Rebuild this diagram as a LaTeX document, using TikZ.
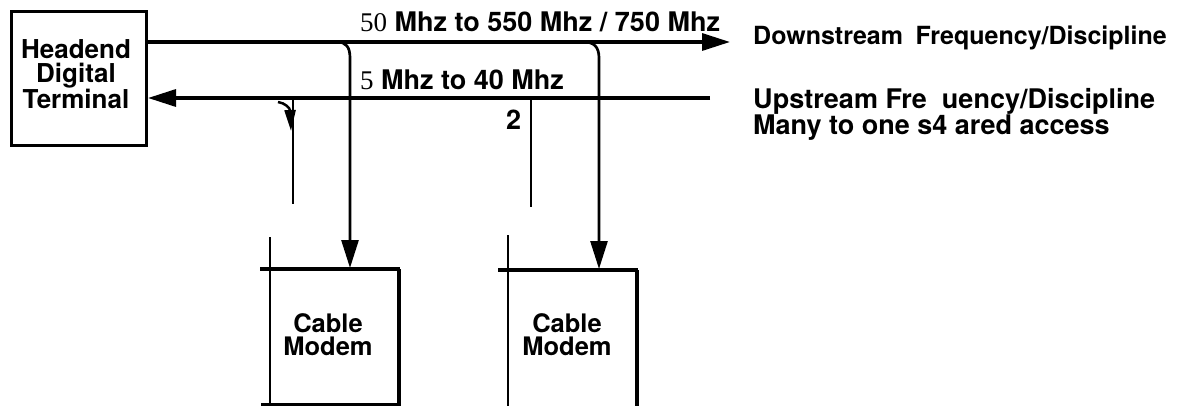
\documentclass[tikz,border=0pt]{standalone}
\usepackage{fontspec}
\setmainfont{TeX Gyre Heros}
\newfontfamily\serifnum{Liberation Serif}
\usetikzlibrary{arrows.meta}
\begin{document}
\begin{tikzpicture}[x=1pt,y=-1pt,
  lbl/.style={font=\bfseries\fontsize{27}{19.5}\selectfont, inner sep=0pt},
  desclbl/.style={font=\bfseries\fontsize{25}{19}\selectfont, inner sep=0pt},
  headlbl/.style={font=\bfseries\fontsize{26}{24}\selectfont, inner sep=0pt, align=center},
  modemlbl/.style={font=\bfseries\fontsize{25.5}{23}\selectfont, inner sep=0pt, align=center},
  big/.style={line width=3.3pt},
  mid/.style={line width=2.7pt},
  thinl/.style={line width=2.2pt},
  tip/.style={-{Triangle[length=28pt,width=17pt]}},
  smalltip/.style={line width=2.5pt,-{Triangle[length=21pt,width=11pt]}}
]
\useasboundingbox (0,0) rectangle (1190,406);

% Headend box
\node[draw, line width=3pt, minimum width=135pt, minimum height=134pt, inner sep=0pt] (head) at (79,78.5) {};
\node[headlbl] (headtxt) at (76,74) {Headend\\Digital\\Terminal};

% main lines
\coordinate (dsE) at (730,42);
\coordinate (usE) at (710,98);
\draw[big, tip] (head.east |- dsE) -- (dsE);
\draw[big, tip] (usE) -- (head.east |- usE);

% labels
\node[lbl, anchor=base west] (dslbl) at (360,32) {{\mdseries\serifnum 50} Mhz to 550 Mhz / 750 Mhz};
\node[lbl, anchor=base west] (uslbl) at (360,90) {{\mdseries\serifnum 5} Mhz to 40 Mhz};
\node[lbl, anchor=base west] (two) at (506,130) {2};
\node[desclbl, anchor=base west] (dsdesc) at (753,45) {Downstream\enspace Frequency/Discipline};
\node[lbl, font=\bfseries\fontsize{27}{19}\selectfont, anchor=north west, align=left] (usdesc) at (753,88) {Upstream Fre\ \ uency/Discipline\\Many to one s4 ared access};

% modem texts
\node[modemlbl] (m1) at (328,335) {Cable\\Modem};
\node[modemlbl] (m2) at (567,335) {Cable\\Modem};

% modem 1 box edges
\coordinate (m1tl) at (270,269);
\coordinate (m1tr) at (399,269);
\draw[big] (260,269) -- (400,269);
\draw[thinl] (270,237) -- (270,406);
\draw[line width=3.5pt] (m1tr) -- (399,406);
\draw[thinl] (261,404.5) -- (399,404.5);

% modem 2 box edges
\coordinate (m2tl) at (508,270);
\coordinate (m2tr) at (637,270);
\draw[big] (498,270) -- (638,270);
\draw[thinl] (508,235) -- (508,406);
\draw[big] (m2tr) -- (637,406);

% downstream branches
\coordinate (b1s) at (337,42);
\coordinate (b1e) at (350,268);
\draw[mid, tip] (b1s) .. controls (346,42) and (350,47) .. (350,58) -- (b1e);
\coordinate (b2s) at (584,42);
\coordinate (b2e) at (599,269);
\draw[mid, tip] (b2s) .. controls (594,42) and (599,47) .. (599,58) -- (b2e);

% upstream taps
\coordinate (t1s) at (293,98);
\coordinate (t1e) at (293,204);
\draw[thinl] (t1s) -- (t1e);
\coordinate (t2s) at (531,98);
\coordinate (t2e) at (531,207);
\draw[thinl] (t2s) -- (t2e);

% small curved arrow
\coordinate (ca1) at (278,102);
\coordinate (ca2) at (291,131);
\draw[smalltip] (ca1) .. controls (285,103) and (290,108) .. (ca2);
\end{tikzpicture}
\end{document}
